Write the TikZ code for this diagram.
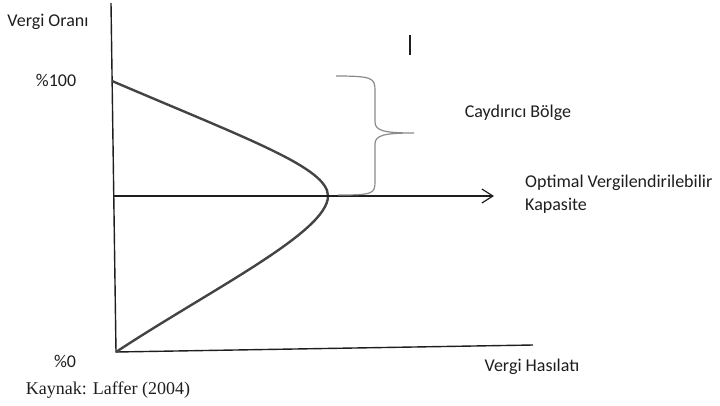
\documentclass[tikz,border=0pt]{standalone}
\usepackage{fontspec}
\setmainfont{Carlito}
\newfontfamily\timesfont{Liberation Serif}
\usetikzlibrary{arrows.meta,positioning,calc}
\definecolor{ink}{HTML}{1E1E1E}
\definecolor{curvec}{HTML}{444444}
\definecolor{bracec}{HTML}{8A8A8A}
\tikzset{axis/.style={line width=1.4pt,draw=ink},
  laffer/.style={line width=2.4pt,draw=curvec},
  bracel/.style={line width=1.2pt,draw=bracec},
  lbl/.style={font=\fontsize{18}{23}\selectfont,text=ink,inner sep=0pt},
  src/.style={font=\timesfont\fontsize{18}{22}\selectfont,text=ink,inner sep=0pt}}

\begin{document}
\begin{tikzpicture}[x=1pt,y=-1pt]
\useasboundingbox (0,0) rectangle (720,405);
% axes
\coordinate (O) at (116,352);
\coordinate (ytop) at (111,3);
\coordinate (xend) at (533,345);
\draw[axis] (ytop)--(O)--(xend);
% Laffer curve
\coordinate (top) at (112,81);
\coordinate (peak) at (328,196);
\draw[laffer] (top) .. controls (250,140) and (328,168) .. (peak)
  .. controls (328,232) and (210,290) .. (O);
% optimal line
\coordinate (hstart) at (113,196);
\coordinate (hend) at (494,196);
\draw[line width=1.2pt,draw=ink,-{Straight Barb[length=11pt,width=14pt]}] (hstart)--(hend);
% brace
\coordinate (btop) at (336,76);
\coordinate (btip) at (414,133);
\coordinate (bbot) at (338,195);
\draw[bracel] (btop) .. controls (372,76) and (375,78) .. (375,90) -- (375,122)
  .. controls (375,131) and (385,133) .. (btip)
  .. controls (385,133) and (375,135) .. (375,144) -- (375,182)
  .. controls (375,194) and (372,195) .. (bbot);
% stray mark
\coordinate (m1) at (410,35);
\coordinate (m2) at (410,55);
\draw[line width=1.6pt,draw=ink] (m1)--(m2);
% labels
\node[lbl] (yl) at (48,22) {Vergi Oranı};
\node[lbl] (p100) at (56,80) {\%100};
\node[lbl] (p0) at (65,361) {\%0};
\node[lbl] (xl) at (532,367) {Vergi Hasılatı};
\node[lbl] (cb) at (518,113) {Caydırıcı Bölge};
\node[lbl,anchor=north west,align=left] (opt) at (525,175) {Optimal Vergilendirilebilir\\Kapasite};
\node[src] (kay) at (108,390) {Kaynak: Laffer (2004)};
\end{tikzpicture}
\end{document}
